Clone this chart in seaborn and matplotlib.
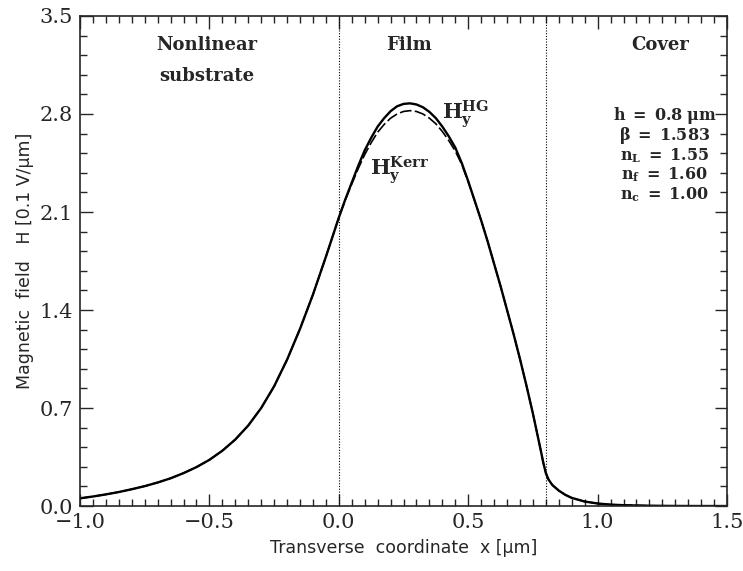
import numpy as np
import pandas as pd
import matplotlib
matplotlib.use("Agg")
import matplotlib.pyplot as plt
import seaborn as sns
from matplotlib.ticker import MultipleLocator

sns.set_style("ticks")
plt.rcParams["font.family"] = ["DejaVu Serif"]
plt.rcParams["mathtext.fontset"] = "dejavuserif"

# transverse coordinate (um)
x_um = [-1.00, -0.95, -0.90, -0.85, -0.80, -0.75, -0.70, -0.65, -0.60, -0.55,
        -0.50, -0.45, -0.40, -0.35, -0.30, -0.25, -0.20, -0.15, -0.10, -0.05,
        0.00, 0.025, 0.05, 0.075, 0.10, 0.125, 0.15, 0.175, 0.20, 0.225,
        0.25, 0.275, 0.30, 0.325, 0.35, 0.375, 0.40, 0.425, 0.45, 0.475,
        0.50, 0.525, 0.55, 0.575, 0.60, 0.625, 0.65, 0.675, 0.70, 0.725,
        0.75, 0.765, 0.78, 0.79, 0.80, 0.81, 0.825, 0.85, 0.875, 0.90,
        0.95, 1.00, 1.05, 1.10, 1.20, 1.30, 1.40, 1.50]

h_hg = [0.055, 0.068, 0.083, 0.100, 0.120, 0.142, 0.168, 0.198, 0.235, 0.278,
        0.330, 0.395, 0.475, 0.575, 0.700, 0.855, 1.045, 1.265, 1.510, 1.780,
        2.060, 2.190, 2.310, 2.430, 2.540, 2.630, 2.710, 2.770, 2.820, 2.855,
        2.872, 2.876, 2.868, 2.848, 2.815, 2.770, 2.710, 2.640, 2.560, 2.450,
        2.320, 2.180, 2.040, 1.890, 1.730, 1.570, 1.400, 1.230, 1.050, 0.860,
        0.660, 0.530, 0.400, 0.310, 0.235, 0.190, 0.150, 0.110, 0.080, 0.058,
        0.032, 0.018, 0.010, 0.006, 0.002, 0.0005, 0.0, 0.0]

h_kerr = [0.055, 0.068, 0.083, 0.100, 0.120, 0.142, 0.168, 0.198, 0.235, 0.278,
          0.330, 0.395, 0.475, 0.575, 0.700, 0.855, 1.045, 1.265, 1.510, 1.780,
          2.060, 2.185, 2.300, 2.410, 2.510, 2.595, 2.670, 2.725, 2.770, 2.800,
          2.818, 2.824, 2.818, 2.800, 2.770, 2.730, 2.675, 2.610, 2.535, 2.440,
          2.315, 2.180, 2.040, 1.890, 1.730, 1.570, 1.400, 1.230, 1.050, 0.860,
          0.660, 0.530, 0.400, 0.310, 0.235, 0.190, 0.150, 0.110, 0.080, 0.058,
          0.032, 0.018, 0.010, 0.006, 0.002, 0.0005, 0.0, 0.0]

interfaces = [0.0, 0.8]

df = pd.DataFrame({"x": x_um * 2,
                   "H": h_hg + h_kerr,
                   "curve": ["HG"] * len(x_um) + ["Kerr"] * len(x_um)})

fig = plt.figure(figsize=(7.43, 5.71), dpi=100)
ax = fig.add_axes([0.1077, 0.1138, 0.8708, 0.8582])

sns.lineplot(data=df, x="x", y="H", style="curve", size="curve",
             sizes={"HG": 1.7, "Kerr": 1.2},
             dashes={"HG": "", "Kerr": (7, 2)},
             color="black", legend=False, ax=ax, sort=False)

for xi in interfaces:
    ax.axvline(xi, color="black", linestyle=(0, (1, 1.5)), linewidth=0.8)

ax.set_xlim(-1.0, 1.5)
ax.set_ylim(0.0, 3.5)
ax.xaxis.set_major_locator(MultipleLocator(0.5))
ax.xaxis.set_minor_locator(MultipleLocator(0.05))
ax.yaxis.set_major_locator(MultipleLocator(0.7))
ax.yaxis.set_minor_locator(MultipleLocator(0.14))
ax.tick_params(which="both", direction="in", top=True, right=True, width=1.0)
ax.tick_params(which="major", length=9, labelsize=15, pad=5)
ax.tick_params(which="minor", length=5)
ax.xaxis.set_major_formatter(plt.FuncFormatter(lambda v, p: f"{v:.1f}".replace("-", "\u2212")))
ax.yaxis.set_major_formatter(plt.FuncFormatter(lambda v, p: f"{v:.1f}"))
for sp in ax.spines.values():
    sp.set_linewidth(1.2)

ax.set_xlabel("Transverse  coordinate  x [\u03bcm]", family="DejaVu Sans", fontsize=12.5, labelpad=5)
ax.set_ylabel("Magnetic  field   H [0.1 V/\u03bcm]", family="DejaVu Sans", fontsize=12.5, labelpad=4)

ax.text(-0.51, 3.29, "Nonlinear", ha="center", va="center", fontsize=13, fontweight="bold")
ax.text(-0.51, 3.07, "substrate", ha="center", va="center", fontsize=13, fontweight="bold")
ax.text(0.27, 3.29, "Film", ha="center", va="center", fontsize=13, fontweight="bold")
ax.text(1.24, 3.29, "Cover", ha="center", va="center", fontsize=13, fontweight="bold")

ax.text(0.40, 2.80, r"$\mathbf{H_y^{HG}}$", fontsize=15, ha="left", va="center")
ax.text(0.12, 2.40, r"$\mathbf{H_y^{Kerr}}$", fontsize=15, ha="left", va="center")

params = [r"$\mathbf{h\ =\ 0.8\ \mu m}$",
          r"$\mathbf{\beta\ =\ 1.583}$",
          r"$\mathbf{n_L\ =\ 1.55}$",
          r"$\mathbf{n_f\ =\ 1.60}$",
          r"$\mathbf{n_c\ =\ 1.00}$"]
for i, t in enumerate(params):
    ax.text(1.26, 2.79 - i * 0.142, t, ha="center", va="center", fontsize=11.5)

fig.savefig("out.png", dpi=100)
